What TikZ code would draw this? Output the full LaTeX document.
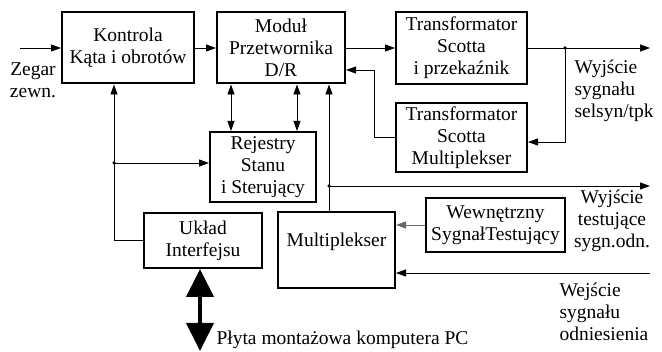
\documentclass[tikz,border=0pt]{standalone}
\usepackage{fontspec}
\setmainfont{Liberation Serif}
\usepackage{tikz}
\usetikzlibrary{arrows.meta}
\usetikzlibrary{calc}

\begin{document}
\begin{tikzpicture}[
    x=1pt, y=-1pt, % pixel-like units, y grows downwards
    every node/.style={
        font=\fontsize{19.5}{22}\selectfont, % Times-like text
        align=center % Center text within nodes
    },
    block/.style={
        draw, % Draw a border around blocks
        line width=2pt, % Heavy frame
        inner sep=2pt
    },
    link/.style={
        line width=0.9pt, % Thin signal lines
        -{Triangle[length=10pt,width=7pt]}
    },
    dlink/.style={
        line width=0.9pt,
        {Triangle[length=10pt,width=7pt]}-{Triangle[length=10pt,width=7pt]}
    },
    dot/.style={circle, fill, inner sep=0pt, minimum size=3.5pt},
    bus/.style={
        line width=4pt, % Thick PC bus arrow
        {Triangle[length=28pt,width=27pt]}-{Triangle[length=28pt,width=27pt]}
    }
]
\useasboundingbox (0,0) rectangle (662,352);

% blocks
\node[block, minimum width=132pt, minimum height=71pt] (kontrola) at (128,48) {Kontrola\\Kąta i obrotów};
\node[block, minimum width=128pt, minimum height=71pt] (modul) at (281,48) {Moduł\\Przetwornika\\D/R};
\node[block, minimum width=131pt, minimum height=72pt] (trprz) at (461.5,48) {Transformator\\Scotta\\i przekaźnik};
\node[block, minimum width=131pt, minimum height=69pt] (trmux) at (461.5,137.5) {Transformator\\Scotta\\Multiplekser};
\node[block, minimum width=106pt, minimum height=70pt] (rejestry) at (263,167) {Rejestry\\Stanu\\i Sterujący};
\node[block, minimum width=118pt, minimum height=55pt] (uklad) at (203,240.5) {Układ\\Interfejsu};
\node[block, minimum width=117pt, minimum height=76pt, text depth=20pt] (mux) at (336.5,250) {Multiplekser};
\node[block, minimum width=139pt, minimum height=54pt] (wewn) at (495.5,225) {Wewnętrzny\\SygnałTestujący};

% labels
\node (zegarlbl) at (33,80) {Zegar\\zewn.};
\node[anchor=north west, align=left] (wy1) at (571,56) {Wyjście\\sygnału\\selsyn/tpk};
\node (wy2) at (612,221) {Wyjście\\testujące\\sygn.odn.};
\node[anchor=west, align=left] (we) at (556,312) {Wejście\\sygnału\\odniesienia};
\node[anchor=west] (pclbl) at (213,340) {Płyta montażowa komputera PC};

% free ends and branch points
\coordinate (zegar) at (20,48);
\coordinate (out1) at (650,48);
\coordinate (split1) at (565,48);
\coordinate (out2) at (650,186);
\coordinate (in3) at (650,273);
\coordinate (pc) at (200,351);
\coordinate (m1) at ($(modul.south west)+(15,0)$);
\coordinate (m2) at ($(modul.south west)+(81,0)$);
\coordinate (m3) at ($(modul.south west)+(113,0)$);
\coordinate (k1) at ($(kontrola.south west)+(53,0)$);
\coordinate (r1) at ($(rejestry.west)+(0,-4)$);
\coordinate (split2) at (m3 |- out2);

% connectors
\draw[link] (zegar) -- (kontrola.west);
\draw[link] (kontrola.east) -- (modul.west);
\draw[link] (modul.east) -- (trprz.west);
\draw[link] (trprz.east) -- (out1);
\draw[link] (split1) |- ($(trmux.east)+(0,4.5)$);
\draw[link] (trmux.west) -| ($(modul.east)+(28,22)$) -- ($(modul.east)+(0,22)$);
\draw[dlink] (m1) -- (m1 |- rejestry.north);
\draw[dlink] (m2) -- (m2 |- rejestry.north);
\draw[link] (m3 |- mux.north) -- (m3);
\draw[link] (split2) -- (out2);
\draw[link] (uklad.west) -| (k1);
\draw[link] (k1 |- r1) -- (r1);
\draw[link, draw=black!60] (wewn.west) -- (wewn.west -| mux.east);
\draw[link] (in3) -- (in3 -| mux.east);
\draw[bus] (pc |- uklad.south) -- (pc);

\node[dot] at (split1) {};
\node[dot] at (split2) {};
\node[dot] at (k1 |- r1) {};
\end{tikzpicture}
\end{document}
